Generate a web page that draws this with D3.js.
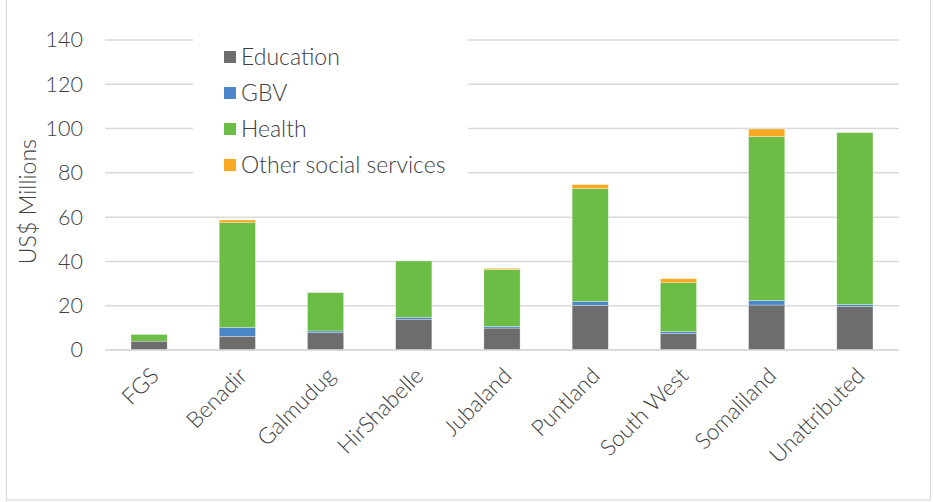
<!DOCTYPE html>
<html>
<head>
<meta charset="utf-8">
<script src="https://cdn.jsdelivr.net/npm/d3@7"></script>
<style>
  html, body { margin: 0; padding: 0; background: #fff; }
  svg { display: block; font-family: "Lato", "Roboto", "Open Sans", sans-serif; font-weight: 300; }
</style>
</head>
<body>
<svg id="chart" width="933" height="502"></svg>
<script>
// Regions and funding by sector (US$ millions)
const regions = ["FGS", "Benadir", "Galmudug", "HirShabelle", "Jubaland", "Puntland", "South West", "Somaliland", "Unattributed"];
const sectors = ["Education", "GBV", "Health", "Other social services"];
const education = [4.0, 6.2, 7.8, 13.9, 9.9, 20.2, 7.4, 20.3, 19.6];
const gbv       = [0.0, 4.0, 0.8, 0.9, 0.8, 1.8, 0.9, 2.1, 0.9];
const health    = [3.0, 47.3, 17.3, 25.4, 25.7, 50.9, 22.1, 74.0, 77.7];
const other     = [0.0, 1.2, 0.0, 0.0, 0.5, 1.8, 1.8, 3.4, 0.0];
const yTicks = [0, 20, 40, 60, 80, 100, 120, 140];
const colors = ["#6d6d6d", "#4a86c8", "#6bbd45", "#f9a822"];

const svg = d3.select("#chart");
const margin = { left: 105, right: 34, top: 40, bottom: 152 };
const W = 933, H = 502;

// outer frame
svg.append("rect").attr("x", 6.5).attr("y", -1).attr("width", 924).attr("height", 501)
  .attr("fill", "none").attr("stroke", "#d9d9d9").attr("stroke-width", 1.2);

const table = regions.map((r, i) => ({
  region: r,
  "Education": education[i],
  "GBV": gbv[i],
  "Health": health[i],
  "Other social services": other[i]
}));
const stacked = d3.stack().keys(sectors)(table);

const x = d3.scaleBand().domain(regions).range([margin.left, W - margin.right]).paddingInner(0.59).paddingOuter(0.295);
const y = d3.scaleLinear().domain([0, 140]).range([H - margin.bottom, margin.top]);

// gridlines
const grid = svg.append("g");
grid.selectAll("line").data(yTicks).join("line")
  .attr("x1", margin.left).attr("x2", W - margin.right)
  .attr("y1", d => y(d)).attr("y2", d => y(d))
  .attr("stroke", "#d9d9d9").attr("stroke-width", 1.5);

// y axis labels
const yAxis = svg.append("g").attr("transform", `translate(${margin.left - 22},0)`)
  .call(d3.axisLeft(y).tickValues(yTicks).tickSize(0).tickPadding(0));
yAxis.select(".domain").remove();
yAxis.selectAll("text").attr("font-size", 21.5).attr("fill", "#404040")
  .attr("font-family", "Lato, Roboto, sans-serif").attr("font-weight", 300);

svg.append("text").attr("transform", `translate(36,${y(67)}) rotate(-90)`)
  .attr("text-anchor", "middle").attr("font-size", 23).attr("fill", "#404040")
  .text("US$ Millions");

// bars
svg.append("g").selectAll("g").data(stacked).join("g")
  .attr("fill", (d, i) => colors[i])
  .selectAll("rect").data(d => d).join("rect")
  .attr("x", d => x(d.data.region))
  .attr("width", x.bandwidth())
  .attr("y", d => y(d[1]))
  .attr("height", d => Math.max(0, y(d[0]) - y(d[1])))
  .attr("stroke", "#ffffff").attr("stroke-opacity", 0.5).attr("stroke-width", 0.6);

// baseline
svg.append("line").attr("x1", margin.left).attr("x2", W - margin.right)
  .attr("y1", y(0)).attr("y2", y(0)).attr("stroke", "#d9d9d9").attr("stroke-width", 1.5);

// x axis labels
const xAxis = svg.append("g").attr("transform", `translate(0,${y(0) + 16})`)
  .call(d3.axisBottom(x).tickSize(0).tickPadding(0));
xAxis.select(".domain").remove();
xAxis.selectAll("text")
  .attr("font-size", 22.5).attr("fill", "#404040")
  .attr("font-family", "Lato, Roboto, sans-serif").attr("font-weight", 300)
  .attr("text-anchor", "end").attr("dy", "0.7em")
  .attr("transform", "translate(0,0) rotate(-45)");

// legend
const legend = svg.append("g").attr("transform", "translate(193,36)");
legend.append("rect").attr("x", 0).attr("y", 0).attr("width", 275).attr("height", 150).attr("fill", "#fff");
const items = legend.selectAll("g.item").data(sectors).join("g").attr("class", "item")
  .attr("transform", (d, i) => `translate(31,${21 + i * 36})`);
items.append("rect").attr("x", 0).attr("y", -6).attr("width", 12).attr("height", 12)
  .attr("fill", (d, i) => colors[i]);
items.append("text").attr("x", 17).attr("y", 0).attr("dy", "0.35em")
  .attr("font-size", 23).attr("fill", "#404040").text(d => d);
</script>
</body>
</html>
